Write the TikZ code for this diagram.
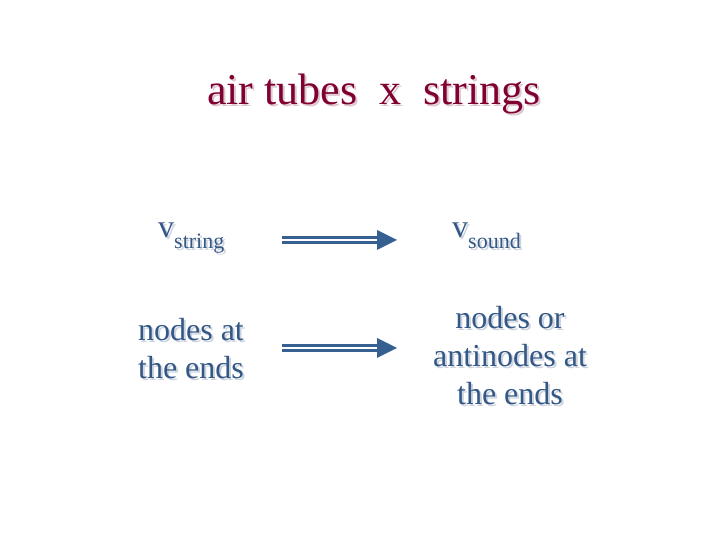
\documentclass[tikz,border=0pt]{standalone}
\usepackage{fontspec}
\setmainfont{Liberation Serif}
\usetikzlibrary{calc}
\definecolor{titlered}{RGB}{128,0,50}
\definecolor{titleshade}{RGB}{222,200,208}
\definecolor{slate}{RGB}{52,88,134}
\definecolor{slateshade}{RGB}{205,212,224}
\definecolor{arrowblue}{RGB}{54,96,146}
% text with a light offset shadow
\newcommand{\shd}[2]{\leavevmode\rlap{\hspace{2pt}\raisebox{-2pt}{\color{#1}#2}}#2}
\newcommand{\bodyshd}[1]{\shd{slateshade}{#1}}

\begin{document}
\begin{tikzpicture}[x=1pt,y=1pt,
  bodytext/.style={text=slate,inner sep=0pt,align=center,font=\fontsize{32}{38}\selectfont},
  dblarrow/.style={arrowblue,line width=3pt,double distance=2pt,double=white},
  arrowhead/.style={fill=arrowblue}]
\useasboundingbox (0,0) rectangle (720,540);
\node[anchor=base,inner sep=0pt,text=titlered,font=\fontsize{44}{53}\selectfont] (title) at (374,435)
  {\shd{titleshade}{air tubes\ \ x\ \ strings}};
% velocities
\node[bodytext,anchor=base west] (vstring) at (158,302)
  {\bodyshd{v}\raisebox{-11pt}{\fontsize{22}{26}\selectfont\bodyshd{string}}};
\node[bodytext,anchor=base west] (vsound) at (452,302)
  {\bodyshd{v}\raisebox{-11pt}{\fontsize{22}{26}\selectfont\bodyshd{sound}}};
% boundary conditions (base = last line)
\node[bodytext,anchor=base] (strends) at (191,161) {\bodyshd{nodes at}\\\bodyshd{the ends}};
\node[bodytext,anchor=base] (tubeends) at (510,135) {\bodyshd{nodes or}\\\bodyshd{antinodes at}\\\bodyshd{the ends}};
% arrows
\coordinate (a1) at (282,300);
\coordinate (h1) at (377,300);
\coordinate (t1) at (397,300);
\coordinate (a2) at (282,192);
\coordinate (h2) at (377,192);
\coordinate (t2) at (397,192);
\draw[dblarrow] (a1) -- (h1);
\fill[arrowhead] (h1) ++(0,10) -- (t1) -- ($(h1)+(0,-10)$) -- cycle;
\draw[dblarrow] (a2) -- (h2);
\fill[arrowhead] (h2) ++(0,10) -- (t2) -- ($(h2)+(0,-10)$) -- cycle;
\end{tikzpicture}
\end{document}
